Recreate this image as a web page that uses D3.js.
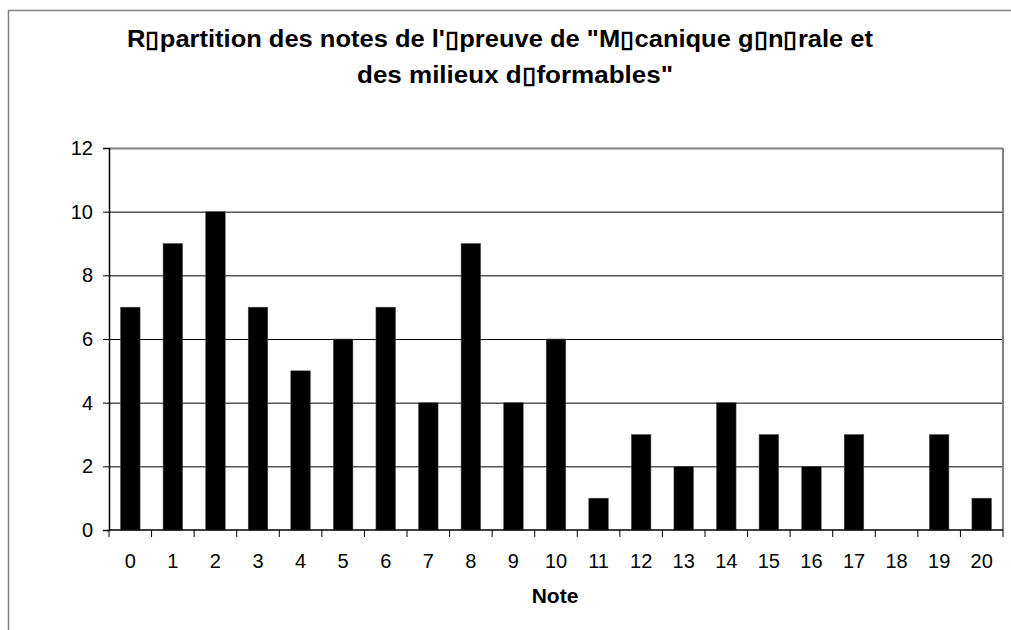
<!DOCTYPE html>
<meta charset="utf-8">
<style>
  body { margin: 0; background: #fff; }
  svg { font-family: "Liberation Sans", Arial, sans-serif; }
  .title { font-weight: bold; font-size: 23px; text-anchor: start; }
  .axis text { font-size: 20px; fill: #000; font-family: "Liberation Sans", Arial, sans-serif; }
  .axis path, .axis line { stroke: #000; }
  .xlabel { font-weight: bold; font-size: 21px; text-anchor: middle; }
</style>
<svg width="1011" height="630"></svg>
<script src="https://d3js.org/d3.v7.min.js"></script>
<script>
// Data
var notes = ["0","1","2","3","4","5","6","7","8","9","10","11","12","13","14","15","16","17","18","19","20"];
var counts = [7, 9, 10, 7, 5, 6, 7, 4, 9, 4, 6, 1, 3, 2, 4, 3, 2, 3, 0, 3, 1];
var yTicks = [0, 2, 4, 6, 8, 10, 12];
var titleLines = ["R\u25AFpartition des notes de l'\u25AFpreuve de \"M\u25AFcanique g\u25AFn\u25AFrale et",
                  "des milieux d\u25AFformables\""];

var svg = d3.select("svg");

// outer chart frame
svg.append("rect")
    .attr("x", 8.5).attr("y", 10.5)
    .attr("width", 1040).attr("height", 660)
    .attr("fill", "none").attr("stroke", "#808080").attr("stroke-width", 1.5);

var pLeft = 109, pRight = 1003, pTop = 148, pBottom = 530;

var x = d3.scaleBand().domain(notes).range([pLeft, pRight]).paddingInner(0.54).paddingOuter(0.27);
var xb = d3.scaleBand().domain(notes).range([pLeft, pRight]);
var y = d3.scaleLinear().domain([0, 12]).range([pBottom, pTop]);

// grid lines
svg.append("g").selectAll("line")
    .data(yTicks.filter(function(d){ return d > 0; }))
    .enter().append("line")
    .attr("x1", pLeft).attr("x2", pRight)
    .attr("y1", function(d){ return y(d) + 0.5; })
    .attr("y2", function(d){ return y(d) + 0.5; })
    .attr("stroke", function(d){ return d == 12 ? "#808080" : "#000"; })
    .attr("stroke-width", function(d){ return d == 12 ? 2 : 1; });

// right border of plot area
svg.append("line")
    .attr("x1", pRight).attr("x2", pRight).attr("y1", pTop).attr("y2", pBottom)
    .attr("stroke", "#808080").attr("stroke-width", 2);

// bars
svg.append("g").selectAll("rect")
    .data(counts)
    .enter().append("rect")
    .attr("x", function(d, i){ return x(notes[i]); })
    .attr("width", x.bandwidth())
    .attr("y", function(d){ return y(d); })
    .attr("height", function(d){ return pBottom - y(d); })
    .attr("fill", "#000")
    .attr("stroke", "#555").attr("stroke-width", 0.5);

// y axis
var yAxis = svg.append("g")
    .attr("class", "axis")
    .attr("transform", "translate(" + pLeft + ",0)")
    .call(d3.axisLeft(y).tickValues(yTicks).tickSize(6).tickPadding(10));
yAxis.select(".domain").attr("stroke-width", 1.5);

// x axis: ticks between categories
var xAxis = svg.append("g")
    .attr("class", "axis")
    .attr("transform", "translate(0," + pBottom + ")");
xAxis.append("line")
    .attr("x1", pLeft).attr("x2", pRight)
    .attr("stroke", "#000").attr("stroke-width", 1.5);
xAxis.selectAll(".tk")
    .data(notes.concat(["end"]))
    .enter().append("line")
    .attr("x1", function(d, i){ return i < notes.length ? xb(d) : pRight; })
    .attr("x2", function(d, i){ return i < notes.length ? xb(d) : pRight; })
    .attr("y1", 0).attr("y2", 7)
    .attr("stroke", "#000");
xAxis.selectAll("text")
    .data(notes)
    .enter().append("text")
    .attr("x", function(d){ return xb(d) + xb.bandwidth() / 2; })
    .attr("y", 38)
    .attr("text-anchor", "middle")
    .text(function(d){ return d; });

// title
svg.append("text").attr("class", "title").attr("x", 127).attr("y", 47)
    .attr("textLength", 746).attr("lengthAdjust", "spacingAndGlyphs").text(titleLines[0]);
svg.append("text").attr("class", "title").attr("x", 357).attr("y", 83)
    .attr("textLength", 316).attr("lengthAdjust", "spacingAndGlyphs").text(titleLines[1]);

// x axis label
svg.append("text").attr("class", "xlabel").attr("x", 555).attr("y", 603).text("Note");
</script>
